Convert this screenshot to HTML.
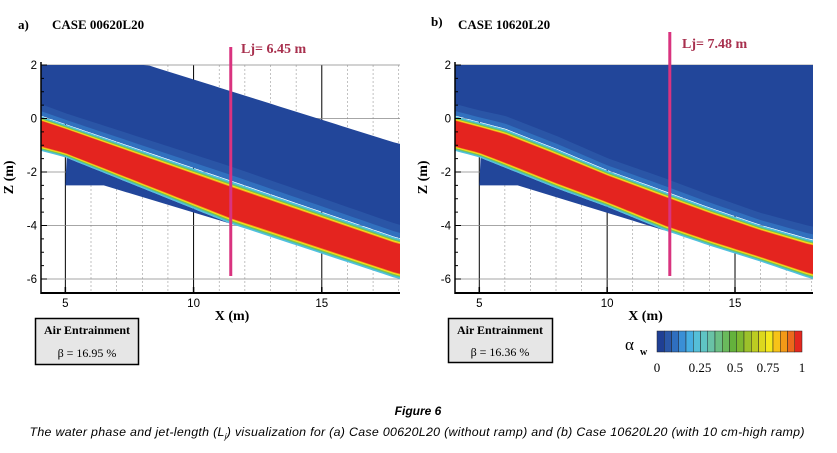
<!DOCTYPE html>
<html><head><meta charset="utf-8"><style>
body{margin:0;background:#fff;}
svg text{font-family:"Liberation Serif",serif;}
</style></head><body>
<svg id="fig" width="837" height="448" xmlns="http://www.w3.org/2000/svg">
<defs>
<linearGradient id="ga" x1="0" y1="0" x2="0" y2="1"><stop offset="0" stop-color="#22469a"/><stop offset="0.75" stop-color="#22469a"/><stop offset="1" stop-color="#2d62b4"/></linearGradient>
</defs>
<g id="pa"></g>
<g id="pb"></g>
<text x="18" y="29" font-size="13" font-weight="bold">a)</text>
<text x="52" y="29" font-size="13" font-weight="bold">CASE 00620L20</text>
<text x="431" y="26" font-size="13" font-weight="bold">b)</text>
<text x="458" y="29" font-size="13" font-weight="bold">CASE 10620L20</text>
<text x="241" y="53" font-size="14" font-weight="bold" fill="#a8304e">Lj= 6.45 m</text>
<text x="682" y="48" font-size="14" font-weight="bold" fill="#a8304e">Lj= 7.48 m</text>
<g>
<rect x="35.5" y="318.5" width="103" height="46" fill="#e6e6e6" stroke="#000" stroke-width="1.5"/>
<text x="87" y="334" font-size="12" font-weight="bold" text-anchor="middle">Air Entrainment</text>
<text x="87" y="357" font-size="12" text-anchor="middle">β = 16.95 %</text></g>
<g>
<rect x="448.5" y="318.5" width="104" height="44" fill="#e6e6e6" stroke="#000" stroke-width="1.5"/>
<text x="500" y="334" font-size="12" font-weight="bold" text-anchor="middle">Air Entrainment</text>
<text x="500" y="356" font-size="12" text-anchor="middle">β = 16.36 %</text></g>
<g id="cbar"></g>
<text x="625" y="350" font-size="17">α</text>
<text x="640" y="355" font-size="10" font-weight="bold">w</text>
<g font-size="13" text-anchor="middle">
<text x="657" y="372">0</text><text x="700" y="372">0.25</text><text x="735" y="372">0.5</text><text x="768" y="372">0.75</text><text x="802" y="372">1</text></g>
<text x="418" y="415" font-size="12" font-weight="bold" font-style="italic" text-anchor="middle" style="font-family:'Liberation Sans',sans-serif">Figure 6</text>
<text x="417" y="436" font-size="12.4" font-style="italic" text-anchor="middle" textLength="775" style="font-family:'Liberation Sans',sans-serif">The water phase and jet-length (L<tspan font-size="8" dy="3">j</tspan><tspan dy="-3">) visualization for (a) Case 00620L20 (without ramp) and (b) Case 10620L20 (with 10 cm-high ramp)</tspan></text>
</svg>
<script>
const xTicks=[5,10,15];
const zTicks=[2,0,-2,-4,-6];
// panel a jet edges
const aTopX=[4,18], aTopZ=[0.1,-4.5];
const aBotX=[4,5,11.5,18], aBotZ=[-1.2,-1.45,-3.95,-6.0];
const aSurfX=[4,8.2,18], aSurfZ=[2,2,-0.95];
const aLj=11.45;
// panel b jet edges
const bTopX=[4,6,8,10,12,14,16,18], bTopZ=[0.1,-0.4,-1.15,-1.95,-2.65,-3.35,-4.0,-4.55];
const bBotX=[4,5,8,10,12.3,14,16,18], bBotZ=[-1.2,-1.45,-2.6,-3.3,-4.2,-4.75,-5.35,-6.0];
const bSurfX=[4,18], bSurfZ=[2,2];
const bLj=12.45;
const cbColors=["#1f3f94","#2a57a8","#2f6fbf","#3a8fd6","#46aee2","#55bfd8","#5fc4c4","#69c2a6","#6bbf85","#6aba5c","#64b23c","#7cb830","#9cc12a","#bccc22","#dcd81e","#f4e81c","#f7c318","#f39a17","#ec6a1c","#e4281f"];
const NS="http://www.w3.org/2000/svg";
function mk(p,t,a){const e=document.createElementNS(NS,t);for(const k in a)e.setAttribute(k,a[k]);p.appendChild(e);return e;}
function interp(xs,zs,x){for(let i=0;i<xs.length-1;i++){if(x<=xs[i+1]){const f=(x-xs[i])/(xs[i+1]-xs[i]);return zs[i]+f*(zs[i+1]-zs[i]);}}return zs[zs.length-1];}
function panel(g,L,R,topX,topZ,botX,botZ,sX,sZ,lj,ljTop,endX){
  const sx=x=>L+(x-4.05)*(R-L)/(18.05-4.05);
  const sz=z=>65+(2-z)*(279-65)/8;
  for(let x=5;x<=18;x++){const l=mk(g,'line',{x1:sx(x),x2:sx(x),y1:65,y2:293,stroke:x%5==0?'#000':'#999','stroke-width':x%5==0?1:0.6,'stroke-dasharray':x%5==0?'':'2,2'});}
  for(let z=-6;z<=2;z+=2){const l=mk(g,'line',{x1:L,x2:R,y1:sz(z),y2:sz(z),stroke:'#888','stroke-width':0.8});}
  const xs=[];for(let x=4.05;x<=18.06;x+=0.25)xs.push(Math.min(x,18.05));
  const edge=(f)=>xs.map(x=>{const t=interp(topX,topZ,x),b=interp(botX,botZ,x);return [sx(x),sz(t+(b-t)*f)];});
  const poly=(a,b,fill,name)=>{const pts=a.concat(b.slice().reverse()).map(p=>p.join(',')).join(' ');const e=mk(g,'polygon',{points:pts,fill:fill});};
  const surf=xs.map(x=>[sx(x),sz(interp(sX,sZ,x))]);
  poly(surf,edge(-0.05),'#22469a','air-region-upper');
  poly(edge(-0.35),edge(-0.02),'#2a55a6','fringe');
  poly(edge(-0.15),edge(-0.02),'#3170be','fringe');
  const ramp=[[sx(5),sz(-2.5)],[sx(6.5),sz(-2.5)]];
  const lower=xs.filter(x=>x>=5&&x<=endX);
  const lp=lower.map(x=>[sx(x),sz(interp(botX,botZ,x))]);
  const pts=lp.concat([[sx(endX),sz(interp(botX,botZ,endX))]],[ramp[1],ramp[0]]).map(p=>p.join(',')).join(' ');
  const lr=mk(g,'polygon',{points:pts,fill:'#22469a'});
  const bands=[[0,1,'#4fc0e0'],[0.04,0.96,'#5bbf8a'],[0.065,0.935,'#8cc23a'],[0.085,0.915,'#f2e51c'],[0.11,0.89,'#f39a17'],[0.13,0.87,'#e4241f']];
  bands.forEach(b=>poly(edge(b[0]),edge(b[1]),b[2],'water-jet-band'));
  const ax=mk(g,'line',{x1:L,x2:L,y1:62,y2:294,stroke:'#000','stroke-width':1.5});
  const bx=mk(g,'line',{x1:L,x2:R,y1:293,y2:293,stroke:'#000','stroke-width':2});
  xTicks.forEach(v=>{mk(g,'line',{x1:sx(v),x2:sx(v),y1:293,y2:287,stroke:'#000','stroke-width':1.5});const t=mk(g,'text',{x:sx(v),y:307,'font-size':11.5,'text-anchor':'middle',style:"font-family:'Liberation Sans',sans-serif"});t.textContent=v;});
  for(let z=-6;z<=2;z+=0.5)mk(g,'line',{x1:L,x2:L+(z%2==0?6:3),y1:sz(z),y2:sz(z),stroke:'#000','stroke-width':1});
  zTicks.forEach(v=>{const t=mk(g,'text',{x:L-4,y:sz(v)+4,'font-size':11.5,'text-anchor':'end',style:"font-family:'Liberation Sans',sans-serif"});t.textContent=v;});
  const xl=mk(g,'text',{x:sx(11.5),y:320,'font-size':14,'font-weight':'bold','text-anchor':'middle'});xl.textContent='X (m)';
  const zl=mk(g,'text',{x:0,y:0,'font-size':14,'font-weight':'bold','text-anchor':'middle',transform:`translate(${L-28},${sz(-2.2)}) rotate(-90)`});zl.textContent='Z (m)';
  const jl=mk(g,'line',{x1:sx(lj),x2:sx(lj),y1:ljTop,y2:276,stroke:'#d9337f','stroke-width':3});
}
panel(document.getElementById('pa'),41,400,aTopX,aTopZ,aBotX,aBotZ,aSurfX,aSurfZ,aLj,47,11.5);
panel(document.getElementById('pb'),455,813,bTopX,bTopZ,bBotX,bBotZ,bSurfX,bSurfZ,bLj,32,12.3);
const cb=document.getElementById('cbar');const w=(802-657)/cbColors.length;
cbColors.forEach((c,i)=>{const r=mk(cb,'rect',{x:657+i*w,y:331,width:w,height:21,fill:c,stroke:'#222','stroke-width':0.5});});
</script>
</body></html>
